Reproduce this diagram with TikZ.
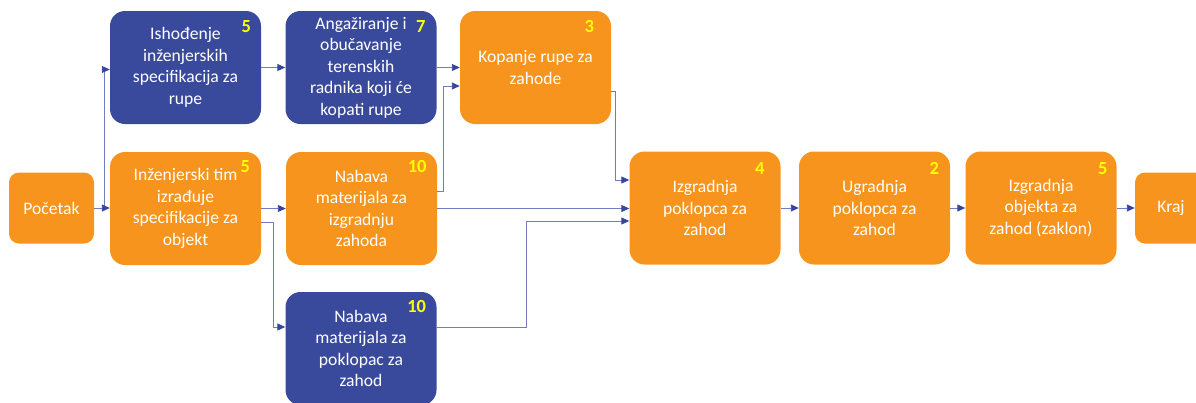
\documentclass[tikz,border=0pt]{standalone}
\usepackage{fontspec}
\setmainfont{Carlito}
\usetikzlibrary{arrows.meta,calc}

\definecolor{taskorange}{RGB}{247,148,29}
\definecolor{taskblue}{RGB}{57,74,156}
\definecolor{linkblue}{RGB}{112,126,190}
\definecolor{tipblue}{RGB}{52,70,158}
\definecolor{durcol}{RGB}{255,255,0}

\tikzset{
  task/.style={rounded corners=15pt, inner sep=0pt, minimum width=151pt,
    minimum height=113pt, text=white, align=center,
    font=\fontsize{17.6}{21.5}\selectfont},
  orangetask/.style={task, fill=taskorange},
  bluetask/.style={task, fill=taskblue},
  terminal/.style={rounded corners=10pt, fill=taskorange, inner sep=0pt,
    minimum width=85pt, minimum height=71pt, text=white,
    font=\fontsize{17.6}{21.5}\selectfont},
  dur/.style={text=durcol, inner sep=0pt,
    font=\fontsize{18.5}{20}\selectfont\bfseries},
  link/.style={draw=linkblue, line width=0.9pt,
    -{Triangle[length=8pt,width=7pt,color=tipblue]}},
}

\begin{document}
\begin{tikzpicture}[x=1pt,y=-1pt]
\useasboundingbox (0,0) rectangle (1196,402);
\clip (0,0) rectangle (1196,402);

% activities
\node[terminal]   (start)  at (51.5,208) {Početak};
\node[bluetask]   (ishod)  at (185.5,67.5) {Ishođenje\\inženjerskih\\specifikacija za\\rupe};
\node[orangetask] (inzt)   at (185.5,208.5) {Inženjerski tim\\izrađuje\\specifikacije za\\objekt};
\node[bluetask]   (angaz)  at (361,67.5) {Angažiranje i\\obučavanje\\terenskih\\radnika koji će\\kopati rupe};
\node[orangetask] (nabizg) at (361.5,208.5) {Nabava\\materijala za\\izgradnju\\zahoda};
\node[bluetask]   (nabpok) at (361,348.5) {Nabava\\materijala za\\poklopac za\\zahod};
\node[orangetask] (kop)    at (535.5,67.5) {Kopanje rupe za\\zahode};
\node[orangetask] (izpok)  at (705,208) {Izgradnja\\poklopca za\\zahod};
\node[orangetask] (ugr)    at (874.5,208) {Ugradnja\\poklopca za\\zahod};
\node[orangetask] (izobj)  at (1041,208) {Izgradnja\\objekta za\\zahod (zaklon)};
\node[terminal, minimum width=72pt] (kraj) at (1171,208) {Kraj};

% durations
\node[dur] (d1) at ([xshift=-15pt,yshift=-16pt]ishod.north east) {5};
\node[dur] (d2) at ([xshift=-16pt,yshift=-15pt]inzt.north east) {5};
\node[dur] (d3) at ([xshift=-16pt,yshift=-16pt]angaz.north east) {7};
\node[dur] (d4) at ([xshift=-20pt,yshift=-15pt]nabizg.north east) {10};
\node[dur] (d5) at ([xshift=-20pt,yshift=-15pt]nabpok.north east) {10};
\node[dur] (d6) at ([xshift=-22pt,yshift=-16pt]kop.north east) {3};
\node[dur] (d7) at ([xshift=-21pt,yshift=-17pt]izpok.north east) {4};
\node[dur] (d8) at ([xshift=-16pt,yshift=-17pt]ugr.north east) {2};
\node[dur] (d9) at ([xshift=-14pt,yshift=-17pt]izobj.north east) {5};

% dependencies
\draw[link] (start.east) -- ++(10,0) |- ([yshift=-2pt]ishod.west);
\draw[link] (start.east) -- (start.east -| inzt.west);
\draw[link] (ishod.east) -- (angaz.west);
\draw[link] (inzt.east) -- (inzt.east -| nabizg.west);
\draw[link] ([yshift=-14pt]inzt.east) -- ++(12,0) |- ([yshift=21.5pt]nabpok.west);
\draw[link] (angaz.east) -- (kop.west);
\draw[link] ([yshift=17.5pt]nabizg.east) -- ++(6,0) |- ([yshift=-18.5pt]kop.west);
\draw[link] ([yshift=-23.5pt]kop.east) -- ++(4,0) |- ([yshift=28pt]izpok.west);
\draw[link] (nabizg.east) -- (nabizg.east -| izpok.west);
\draw[link] ([yshift=21.5pt]nabpok.east) -- ++(90,0) |- ([yshift=-13pt]izpok.west);
\draw[link] (izpok.east) -- (ugr.west);
\draw[link] (ugr.east) -- (izobj.west);
\draw[link] (izobj.east) -- (kraj.west);
\end{tikzpicture}
\end{document}
